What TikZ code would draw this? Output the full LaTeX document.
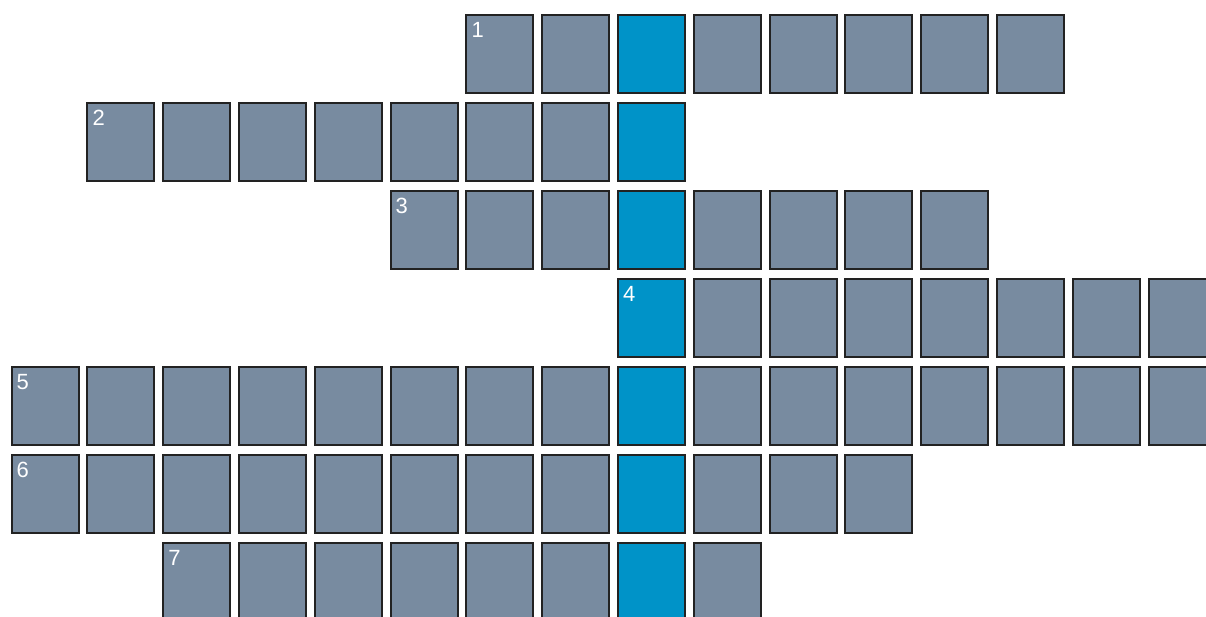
\documentclass[tikz,border=0pt]{standalone}
\usepackage{fontspec}
\setmainfont{Liberation Sans}
\usetikzlibrary{positioning}
\definecolor{cellgrey}{RGB}{120, 139, 160}
\definecolor{keyblue}{RGB}{0, 147, 200}
\definecolor{cellrule}{RGB}{34, 34, 34}

\begin{document}
\begin{tikzpicture}[x=1pt, y=-1pt,
    cell/.style={rectangle, draw=cellrule, line width=2pt, minimum width=67pt, minimum height=78pt, inner sep=0pt},
    plaincell/.style={cell, fill=cellgrey},
    keycell/.style={cell, fill=keyblue},
    clue/.style={anchor=north west, text=white, inner xsep=6pt, inner ysep=8pt, font=\fontsize{22}{26}\selectfont}
]
    % Frame
    \useasboundingbox (0,0) rectangle (1206,617);
    \clip (0,0) rectangle (1206,617);

    % Words: row / first column / length / clue number
    \foreach \row/\start/\len/\num in {0/6/8/1, 1/1/8/2, 2/5/8/3, 3/8/8/4, 4/0/16/5, 5/0/12/6, 6/2/8/7} {
        \pgfmathtruncatemacro\last{\start+\len-1}
        \foreach \col in {\start,...,\last} {
            \ifnum\col=8 \def\cellkind{keycell}\else\def\cellkind{plaincell}\fi
            \node[\cellkind] (cell-\row-\col) at ({45+75.8*\col}, {54+88*\row}) {};
        }
        % Clue number
        \node[clue] (clue-\num) at (cell-\row-\start.north west) {\num};
    }
\end{tikzpicture}
\end{document}
